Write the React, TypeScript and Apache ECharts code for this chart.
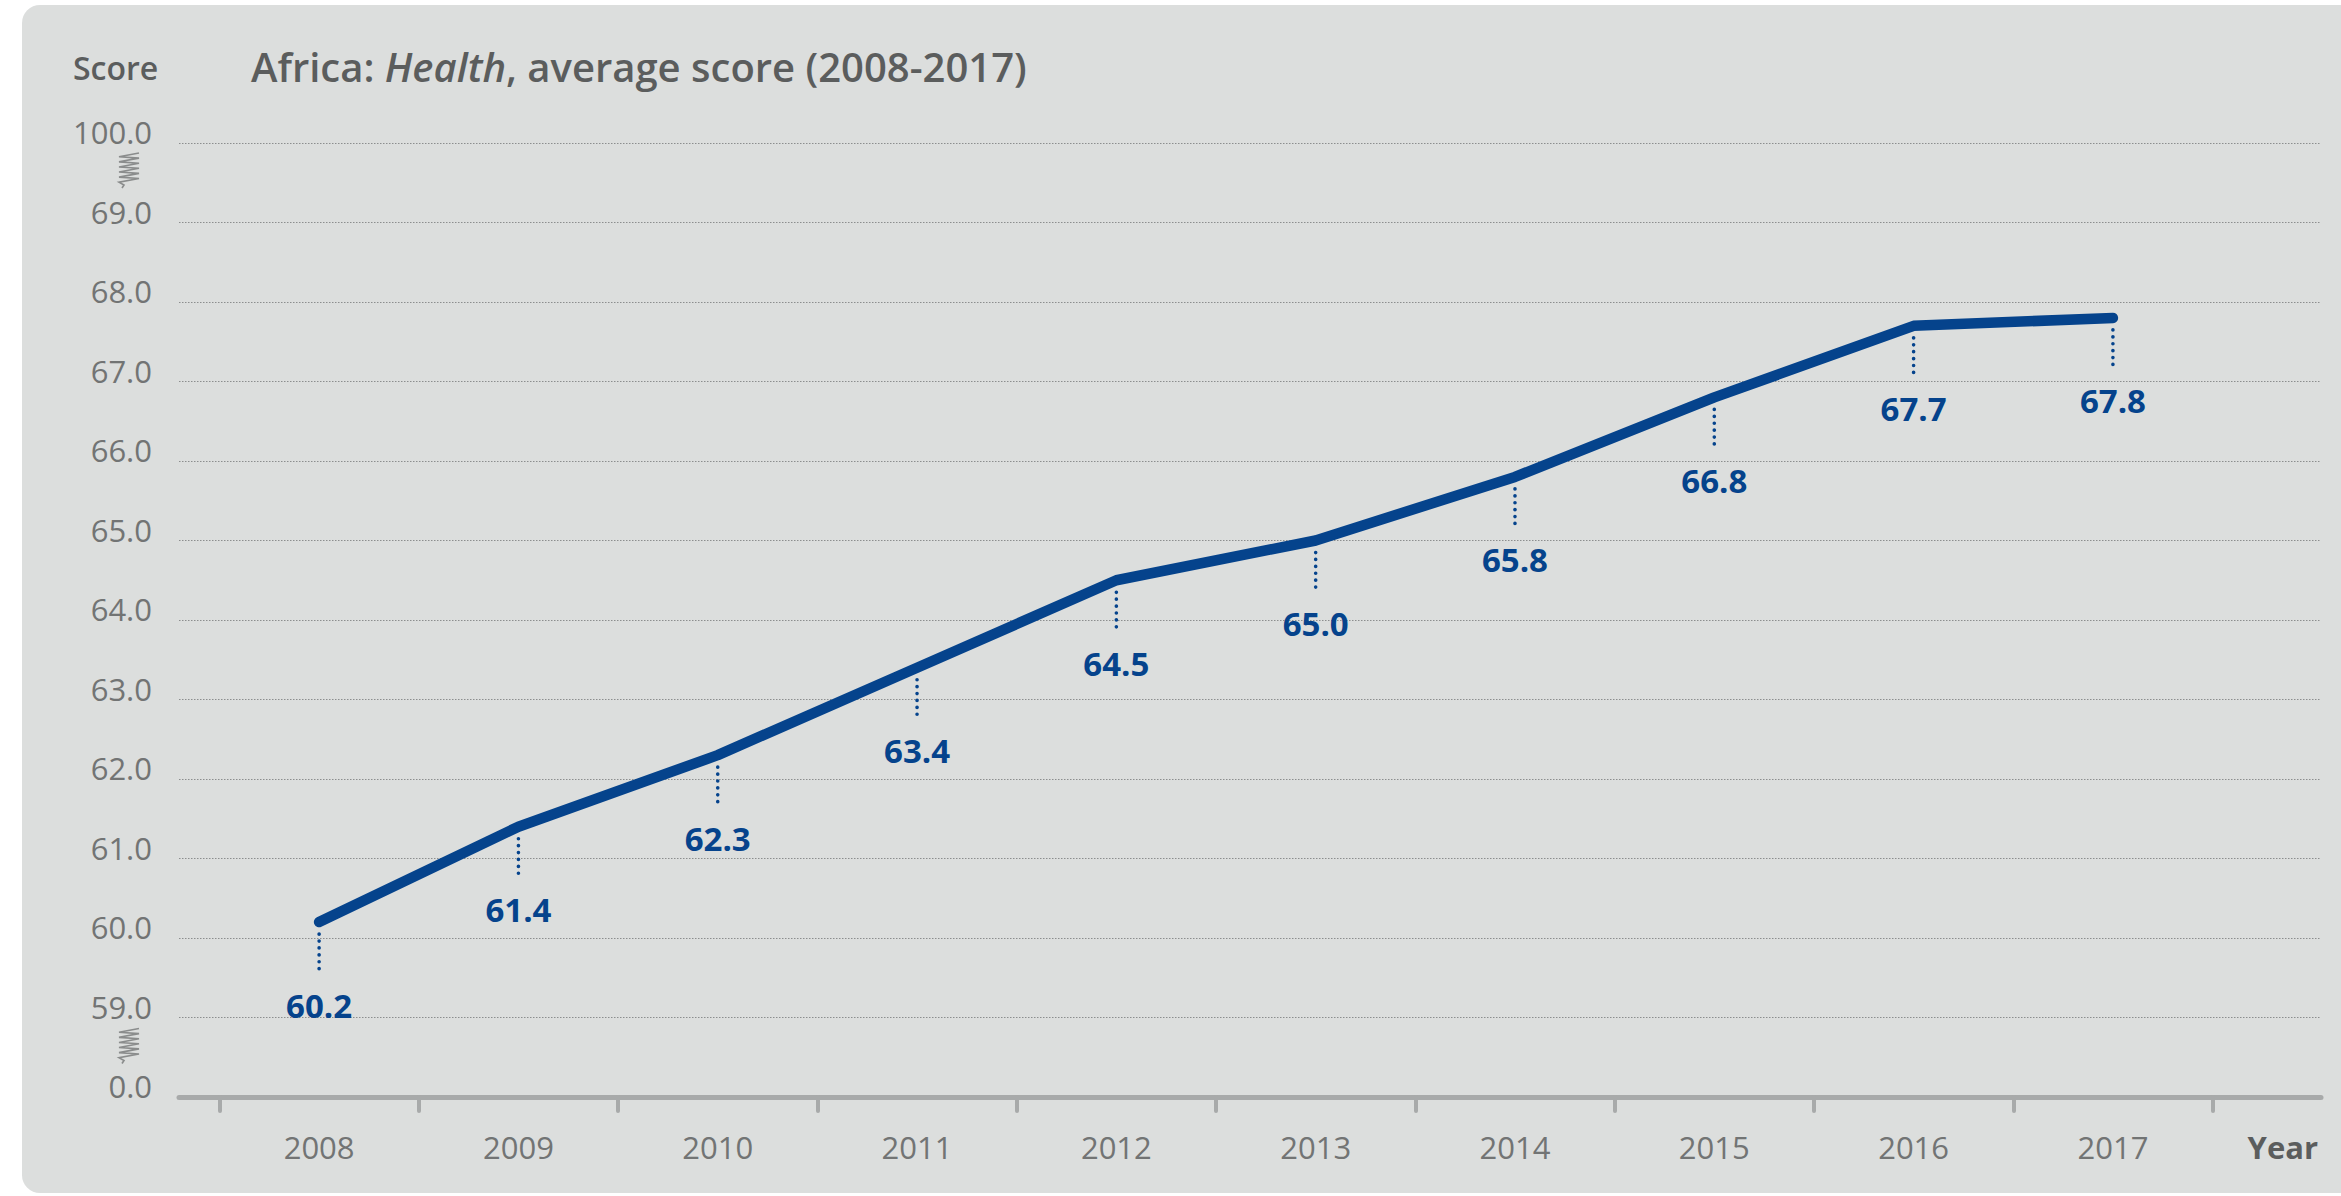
import React, { useEffect, useRef } from "react";
import * as echarts from "echarts";

const years = [2008, 2009, 2010, 2011, 2012, 2013, 2014, 2015, 2016, 2017];
const scores = [60.2, 61.4, 62.3, 63.4, 64.5, 65.0, 65.8, 66.8, 67.7, 67.8];
// axis positions 58..70 carry these tick labels (58 and 70 sit beyond axis breaks)
const yAxisMin = 58;
const yAxisMax = 70;
const yTickLabels = ["0.0", "59.0", "60.0", "61.0", "62.0", "63.0", "64.0", "65.0", "66.0", "67.0", "68.0", "69.0", "100.0"];

const BLUE = "#05438c";
const GRAY_TEXT = "#727474";
const DARK_TEXT = "#5b5d5d";
const AXIS_GRAY = "#a8aaaa";
const FONT = '"Open Sans", "DejaVu Sans", sans-serif';

export default function App() {
  const ref = useRef<HTMLDivElement>(null);
  useEffect(() => {
    document.body.style.margin = "0";
    const chart = echarts.init(ref.current!, null, { renderer: "svg" });
    const option: any = {
      animation: false,
      backgroundColor: "#ffffff",
      title: {
        text: "Africa: {i|Health}, average score (2008-2017)",
        left: 246,
        top: 41,
        textStyle: {
          fontFamily: FONT,
          fontSize: 40,
          fontWeight: 600,
          color: DARK_TEXT,
          rich: {
            i: { fontFamily: FONT, fontSize: 40, fontWeight: 600, fontStyle: "italic", color: DARK_TEXT },
          },
        },
      },
      grid: { left: 179, right: 20, top: 143, bottom: 99, containLabel: false },
      xAxis: {
        type: "value",
        min: 2007.297,
        max: 2018.044,
        splitLine: { show: false },
        axisLine: { show: true, lineStyle: { color: AXIS_GRAY, width: 5 } },
        axisTick: {
          show: true,
          customValues: years.map((y) => y - 0.5).concat([years[years.length - 1] + 0.5]),
          length: 14,
          lineStyle: { color: AXIS_GRAY, width: 4, cap: "round" },
        },
        axisLabel: {
          customValues: years,
          formatter: (v: number) => String(Math.round(v)),
          color: GRAY_TEXT,
          fontFamily: FONT,
          fontSize: 31,
          margin: 34,
        },
      },
      yAxis: {
        type: "value",
        min: yAxisMin,
        max: yAxisMax,
        interval: 1,
        axisLine: { show: false },
        axisTick: { show: false },
        axisLabel: {
          formatter: (v: number) => yTickLabels[Math.round(v - yAxisMin)],
          color: GRAY_TEXT,
          fontFamily: FONT,
          fontSize: 31,
          margin: 27,
          verticalAlign: "bottom",
          lineHeight: 22,
        },
        splitLine: { show: true, lineStyle: { color: "#8c8e8e", width: 1, type: [1.5, 1.5] } },
      },
      series: [
        {
          type: "line",
          data: years.map((y, i) => [y, scores[i]]),
          symbol: "none",
          lineStyle: { color: BLUE, width: 10.5, cap: "round", join: "round" },
          z: 3,
        },
        {
          type: "custom",
          data: years.map((y, i) => [y, scores[i]]),
          z: 4,
          renderItem: (params: any, api: any) => {
            const pt = api.coord([api.value(0), api.value(1)]);
            return {
              type: "group",
              children: [
                {
                  type: "line",
                  shape: { x1: pt[0], y1: pt[1] + 12, x2: pt[0], y2: pt[1] + 53 },
                  style: { stroke: BLUE, lineWidth: 3.6, lineDash: [0.1, 6.8], lineCap: "round" },
                },
                {
                  type: "text",
                  x: pt[0],
                  y: pt[1] + 83,
                  style: {
                    text: Number(api.value(1)).toFixed(1),
                    fill: BLUE,
                    font: `bold 33px ${FONT}`,
                    align: "center",
                    verticalAlign: "middle",
                  },
                },
              ],
            };
          },
        },
      ],
    };
    chart.setOption(option);

    const yTop = chart.convertToPixel({ yAxisIndex: 0 }, yAxisMax) as number;
    const yLow = chart.convertToPixel({ yAxisIndex: 0 }, yAxisMin + 1) as number;
    const yBottom = chart.convertToPixel({ yAxisIndex: 0 }, yAxisMin) as number;
    const xRight = chart.convertToPixel({ xAxisIndex: 0 }, 2018.044) as number;

    // spring-like axis-break symbol
    const squiggle = (top: number) => {
      const pts: number[][] = [];
      const x0 = 119;
      const x1 = 139;
      const n = 11;
      const h = 28;
      for (let i = 0; i <= n; i++) {
        pts.push([i % 2 === 0 ? x1 : x0, top + (h * i) / n + (i % 2 === 0 ? 0 : 1.2)]);
      }
      pts.push([124, top + h + 4]);
      pts.push([122, top + h + 7]);
      return {
        type: "polyline",
        shape: { points: pts },
        style: { stroke: "#8a8c8c", lineWidth: 1.6, fill: "none" },
        z: 10,
      };
    };

    chart.setOption({
      graphic: [
        {
          type: "rect",
          shape: { x: 22, y: 5, width: 2400, height: 1188, r: 18 },
          style: { fill: "#dcdedd" },
          z: -100,
          silent: true,
        },
        squiggle(yTop + 10),
        squiggle(yLow + 11),
        {
          type: "text",
          x: 73,
          y: 67,
          style: { text: "Score", font: `600 32px ${FONT}`, fill: DARK_TEXT, verticalAlign: "middle" },
          z: 10,
        },
        {
          type: "text",
          x: xRight - 3,
          y: yBottom + 50,
          style: { text: "Year", font: `bold 31px ${FONT}`, fill: DARK_TEXT, align: "right", verticalAlign: "middle" },
          z: 10,
        },
      ],
    });

    return () => chart.dispose();
  }, []);
  return <div ref={ref} style={{ width: 2341, height: 1196 }} />;
}
